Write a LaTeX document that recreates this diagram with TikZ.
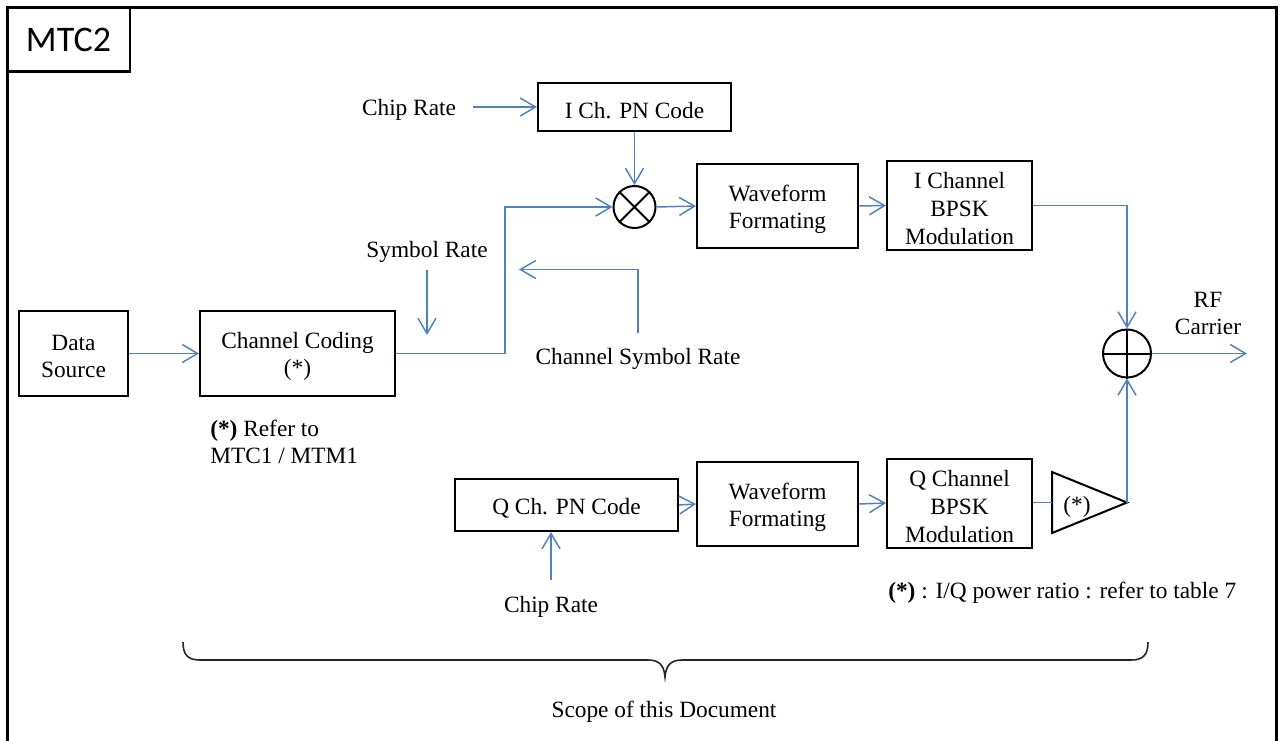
\documentclass[tikz,border=0pt]{standalone}
\usepackage{fontspec}
\setmainfont{Liberation Serif}
\newfontfamily\calib{Carlito}
\usetikzlibrary{arrows.meta,shapes.geometric}
\definecolor{wireblue}{HTML}{4F81BD}
\begin{document}
\begin{tikzpicture}[x=0.75pt,y=-0.75pt,
  box/.style={draw=black,line width=1.5pt,inner sep=0pt},
  lbl/.style={align=center,inner sep=0pt,yshift=-2.3pt,font=\fontsize{17.5}{20.5}\selectfont},
  lbl3/.style={lbl,font=\fontsize{17.5}{21}\selectfont},
  ring/.style={circle,draw=black,line width=1.5pt,inner sep=0pt},
  wire/.style={draw=wireblue,line width=1.1pt},
  conn/.style={wire,-{Straight Barb[length=11.5pt,width=13.5pt,line width=1.1pt]}},
  thick frame/.style={draw=black,line width=2.25pt}]
\useasboundingbox (0,0) rectangle (1280,740);
% outer frame
\draw[thick frame] (7.5,760) -- (7.5,7.5) -- (1276.5,7.5) -- (1276.5,760);
\draw[draw=black,line width=1.9pt] (7.5,7.5) rectangle (130,71.5);
\node[inner sep=0pt,font=\calib\fontsize{27}{30}\selectfont] (title) at (68.5,40) {MTC2};

% blocks
\node[box,minimum width=81.75pt,minimum height=63.75pt] (ds) at (73.5,353.5) {};
\node[lbl] (ds-t) at (ds) {Data\\Source};
\node[box,minimum width=146.25pt,minimum height=63.75pt] (cc) at (297.5,353.5) {};
\node[lbl] (cc-t) at (cc) {Channel Coding\\(*)};
\node[box,minimum width=144.75pt,minimum height=36pt] (ipn) at (634.5,107) {};
\node[lbl] (ipn-t) at (ipn) {I Ch. PN Code};
\node[ring,minimum size=31.5pt] (mul) at (634.5,207) {};
\draw[line width=1.5pt] (mul.north west) -- (mul.south east) (mul.north east) -- (mul.south west);
\node[box,minimum width=120.75pt,minimum height=63pt] (wf1) at (777.5,206) {};
\node[lbl] (wf1-t) at (wf1) {Waveform\\Formating};
\node[box,minimum width=108.75pt,minimum height=66.75pt] (ib) at (959.5,205.5) {};
\node[lbl3] (ib-t) at (ib) {I Channel\\BPSK\\Modulation};
\node[ring,minimum size=36pt] (sum) at (1127,353.5) {};
\draw[line width=1.5pt] (sum.north) -- (sum.south) (sum.west) -- (sum.east);
\node[box,minimum width=167.25pt,minimum height=39pt] (qpn) at (566.5,505) {};
\node[lbl] (qpn-t) at (qpn) {Q Ch. PN Code};
\node[box,minimum width=120.75pt,minimum height=63pt] (wf2) at (777.5,504) {};
\node[lbl] (wf2-t) at (wf2) {Waveform\\Formating};
\node[box,minimum width=108.75pt,minimum height=66.75pt] (qb) at (959.5,503) {};
\node[lbl3] (qb-t) at (qb) {Q Channel\\BPSK\\Modulation};
% amplifier
\coordinate (ampin) at (1052,502.5);
\coordinate (ampout) at (1127,502.5);
\draw[line width=1.5pt] (1052,472) -- (ampout) -- (1052,533) -- cycle;
\node[lbl] (amp) at (1077,504) {(*)};

% labels
\node[lbl] (cr1) at (409,107) {Chip Rate};
\node[lbl] (sr) at (427,249) {Symbol Rate};
\node[lbl] (csr) at (638,356) {Channel Symbol Rate};
\node[lbl] (cr2) at (551,604) {Chip Rate};
\node[lbl,font=\fontsize{17.5}{20}\selectfont] (rf) at (1208,310.5) {RF\\Carrier};
\node[lbl,align=left,anchor=west,font=\fontsize{17.5}{20}\selectfont] (note1) at (210,438.5) {\textbf{(*)} Refer to\\MTC1 / MTM1};
\node[lbl,anchor=west] (note2) at (888,590) {\textbf{(*)} : I/Q power ratio : refer to table 7};
\node[lbl] (scope) at (664,709) {Scope of this Document};

% connector end points
\coordinate (j1) at (505,353.5);
\coordinate (sra) at (427,270);
\coordinate (srb) at (427,335);
\coordinate (csra) at (638,333);
\coordinate (csrb) at (519,269.5);
\coordinate (cr1a) at (473,107);
\coordinate (cr2a) at (551,580);
\coordinate (rfout) at (1247,353.5);

% connectors
\draw[conn] (ds.east) -- (cc.west);
\draw[conn] (cc.east) -- (j1) |- (mul.west);
\draw[conn] (sra) -- (srb);
\draw[conn] (csra) |- (csrb);
\draw[conn] (cr1a) -- (ipn.west);
\draw[conn] (ipn.south) -- (mul.north);
\draw[conn] (mul.east) -- (wf1.west);
\draw[conn] (wf1.east) -- (ib.west);
\draw[conn] (ib.east) -| (sum.north);
\draw[conn] (sum.east) -- (rfout);
\draw[conn] (cr2a) -- (cr2a |- qpn.south);
\draw[conn] (qpn.east) -- (wf2.west);
\draw[conn] (wf2.east) -- (qb.west);
\draw[wire] (qb.east |- ampin) -- (ampin);
\draw[conn] (ampout) -- (ampout |- sum.south);

% brace
\draw[line width=1.2pt,draw=black!85] (183,642) .. controls (183,655) and (188,660) .. (200,660)
  -- (648,660) .. controls (658,660) and (664,664) .. (665,677)
  .. controls (666,664) and (672,660) .. (682,660)
  -- (1131,660) .. controls (1143,660) and (1148,655) .. (1148,642);
\end{tikzpicture}
\end{document}
